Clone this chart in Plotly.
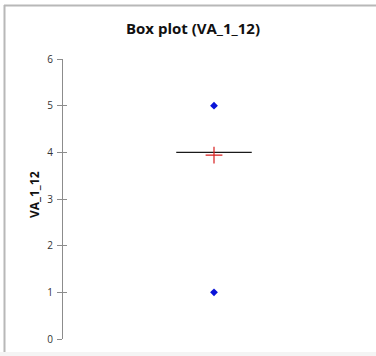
import plotly.graph_objects as go

# ---- data ----
variable = "VA_1_12"
q1 = [4]
median = [4]
q3 = [4]
lower_fence = [4]
upper_fence = [4]
mean_value = [3.94]
outliers = [5, 1]
y_ticks = [0, 1, 2, 3, 4, 5, 6]

W, H = 376, 356
L, R, T, B = 63, 11, 59, 17
pw, ph = W - L - R, H - T - B

def px_x(p):
    return (p - L) / pw

def px_y(p):
    return (H - B - p) / ph

fig = go.Figure()
fig.add_trace(go.Box(
    x=[0], q1=q1, median=median, q3=q3,
    lowerfence=lower_fence, upperfence=upper_fence,
    width=0.5, line=dict(color="#1a1a1a", width=1.2),
    fillcolor="rgba(0,0,0,0)", boxpoints=False, whiskerwidth=0,
    showlegend=False, hoverinfo="skip",
))
fig.add_trace(go.Scatter(
    x=[0] * len(outliers), y=outliers, mode="markers",
    marker=dict(symbol="diamond", size=6, color="#0a14d8"),
    showlegend=False,
))
fig.add_trace(go.Scatter(
    x=[0], y=mean_value, mode="markers",
    marker=dict(symbol="cross-thin", size=12,
                line=dict(color="#d81e1e", width=1.2)),
    showlegend=False,
))
# invisible trace on overlay axis for inside ticks
fig.add_trace(go.Scatter(x=[0], y=[0], yaxis="y2", mode="markers",
                         marker=dict(opacity=0), showlegend=False,
                         hoverinfo="skip"))

fig.update_layout(
    width=W, height=H,
    margin=dict(l=L, r=R, t=T, b=B),
    paper_bgcolor="white", plot_bgcolor="white",
    font=dict(family="Open Sans, DejaVu Sans, sans-serif", color="#555"),
    title=dict(text="<b>Box plot (VA_1_12)</b>", x=193 / W, xref="container",
               xanchor="center", y=1 - 29 / H, yref="container", yanchor="middle",
               font=dict(size=15, color="#111")),
    xaxis=dict(range=[-1, 1], visible=False, fixedrange=True),
    yaxis=dict(range=[0, 6], tickvals=y_ticks, showgrid=False, zeroline=False,
               showline=True, linecolor="#8c8c8c", linewidth=1,
               ticks="outside", ticklen=5, tickcolor="#8c8c8c",
               tickfont=dict(size=10, color="#333"), ticklabelstandoff=2),
    yaxis2=dict(range=[0, 6], tickvals=y_ticks, overlaying="y", side="left",
                showgrid=False, zeroline=False, showticklabels=False,
                ticks="inside", ticklen=4, tickcolor="#8c8c8c", showline=False),
    showlegend=False,
    shapes=[
        dict(type="line", xref="paper", yref="paper",
             x0=px_x(4), x1=px_x(W + 5), y0=px_y(5.5), y1=px_y(5.5),
             line=dict(color="#b8b8b8", width=2)),
        dict(type="line", xref="paper", yref="paper",
             x0=px_x(4.5), x1=px_x(4.5), y0=px_y(5), y1=px_y(352),
             line=dict(color="#b8b8b8", width=2)),
        dict(type="rect", xref="paper", yref="paper",
             x0=px_x(0), x1=px_x(W + 5), y0=px_y(352), y1=px_y(H + 5),
             fillcolor="#f4f4f4", line=dict(width=0), layer="below"),
    ],
    annotations=[dict(text="<b>VA_1_12</b>", xref="paper", yref="paper",
                      x=px_x(34), y=px_y(195), textangle=-90, showarrow=False,
                      xanchor="center", yanchor="middle",
                      font=dict(size=12, color="#111"))],
)

fig.write_html("out.html", config={"displayModeBar": False},
               post_script="document.body.style.margin='0';document.body.style.overflow='hidden';")
